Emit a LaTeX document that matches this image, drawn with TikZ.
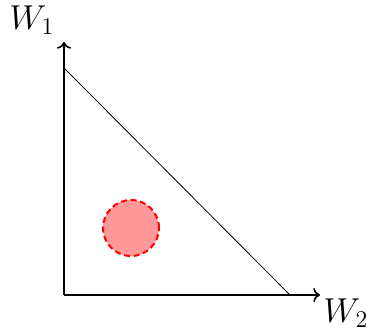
\documentclass[tikz,border=0pt]{standalone}
\usepackage{amsmath,amssymb}
\usepackage{tikz}
\usetikzlibrary{arrows.meta,positioning}
\definecolor{ball}{RGB}{255,0,0}
\begin{document}
\begin{tikzpicture}[x=0.5pt,y=0.5pt]
        \useasboundingbox (0,0) rectangle (370,332);
        \coordinate (o) at (64,37);
        \coordinate (ytop) at (64,290);
        \coordinate (xend) at (320,37);
        \coordinate (a) at (64,264);
        \coordinate (b) at (290,37);
        \draw[thick,->] (o) -- (ytop);
        \draw[thick,->] (o) -- (xend);
        \draw (a) -- (b);
        \node[font=\LARGE,inner sep=0pt] (w1) at (32,312) {$W_1$};
        \node[font=\LARGE,inner sep=0pt] (w2) at (346,19) {$W_2$};
        \draw[ball,line width=1pt,dash pattern=on 3pt off 1.8pt,fill=ball!40] (131,104) circle (28);
      \end{tikzpicture}
\end{document}
